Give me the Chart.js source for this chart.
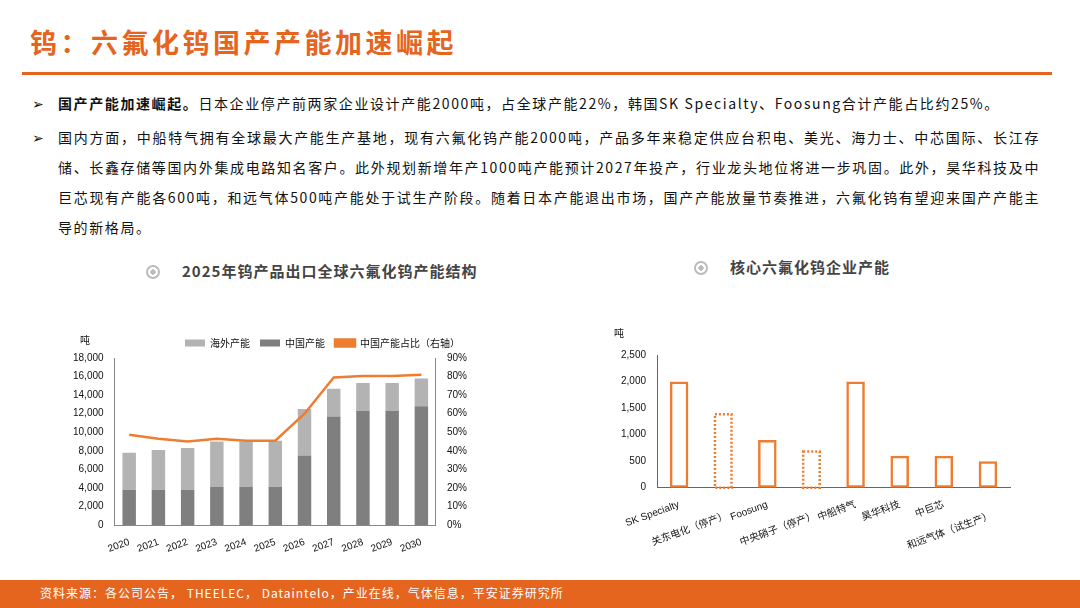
<!DOCTYPE html>
<html><head><meta charset="utf-8">
<script src="https://cdn.jsdelivr.net/npm/chart.js@4"></script>
<style>
body{margin:0;width:1080px;height:608px;position:relative;background:#fff;font-family:"Noto Sans CJK SC",sans-serif;overflow:hidden}
#title{position:absolute;left:30px;top:22px;font-size:27px;color:#E5651F;font-weight:bold;letter-spacing:3.5px}
#rule{position:absolute;left:22px;right:28px;top:72px;height:3px;background:#E5651F}
.b{position:absolute;left:32px;width:1008px;font-size:14px;line-height:30px;color:#111;letter-spacing:1.6px;text-align:justify}
.b span.m{position:absolute;left:0}
.b div{margin-left:26px}
.ct{position:absolute;font-size:15px;font-weight:bold;color:#444;letter-spacing:1px}
.ct i{display:inline-block;width:14px;height:14px;border-radius:50%;border:2px solid #bbb;box-sizing:border-box;vertical-align:-2px;margin-right:22px;background:radial-gradient(#bbb 35%,#fff 40%)}
#foot{position:absolute;left:0;right:0;top:580px;height:28px;background:#E5651F;color:#fff;font-size:12px;line-height:26px;padding-left:40px;letter-spacing:1px}
canvas{position:absolute}
</style></head><body>
<div id="title">钨：六氟化钨国产产能加速崛起</div>
<div id="rule"></div>
<div class="b" style="top:88px"><span class="m">➢</span><div><b>国产产能加速崛起。</b>日本企业停产前两家企业设计产能2000吨，占全球产能22%，韩国SK Specialty、Foosung合计产能占比约25%。</div></div>
<div class="b" style="top:122px"><span class="m">➢</span><div>国内方面，中船特气拥有全球最大产能生产基地，现有六氟化钨产能2000吨，产品多年来稳定供应台积电、美光、海力士、中芯国际、长江存储、长鑫存储等国内外集成电路知名客户。此外规划新增年产1000吨产能预计2027年投产，行业龙头地位将进一步巩固。此外，昊华科技及中巨芯现有产能各600吨，和远气体500吨产能处于试生产阶段。随着日本产能退出市场，国产产能放量节奏推进，六氟化钨有望迎来国产产能主导的新格局。</div></div>
<div class="ct" style="left:146px;top:260px"><i></i>2025年钨产品出口全球六氟化钨产能结构</div>
<div class="ct" style="left:694px;top:256px"><i></i>核心六氟化钨企业产能</div>
<canvas id="c1" style="left:70px;top:328px" width="400" height="230"></canvas>
<canvas id="c2" style="left:600px;top:325px" width="420" height="230"></canvas>
<div id="foot">资料来源：各公司公告， THEELEC， Dataintelo，产业在线，气体信息，平安证券研究所</div>
<script>
const years = ['2020','2021','2022','2023','2024','2025','2026','2027','2028','2029','2030'];
const chinaCap = [3800,3800,3800,4100,4100,4100,7500,11700,12300,12300,12800];
const overseasCap = [4000,4300,4500,4900,4900,5000,5000,3000,3000,3000,3000];
const chinaShare = [48.7,46.5,45,46.5,45.5,45.5,60,79.5,80.3,80.3,81];

const companies = [['SK Specialty',''],['','关东电化（停产）'],['Foosung',''],['','中央硝子（停产）'],['中船特气',''],['昊华科技',''],['中巨芯',''],['','和远气体（试生产）']];
const companyCap = [2000,1400,900,700,2000,600,600,500];
const stopped = [false,true,false,true,false,false,false,false];

const font = {family:'Liberation Sans, Noto Sans CJK SC', size:11};
Chart.defaults.color = '#111';
Chart.defaults.font = font;

const unitPlugin = {id:'unit', afterDraw(c, a, o){const x=c.ctx; x.save(); x.font='10px Noto Sans CJK SC'; x.fillStyle='#111'; x.fillText('吨', o.x, o.y); x.restore();}};

new Chart(document.getElementById('c1'), {
  data: {labels: years, datasets: [
    {type:'line', label:'中国产能占比（右轴）', data: chinaShare, yAxisID:'y2', borderColor:'#ED7D31', backgroundColor:'#ED7D31', borderWidth:2.5, pointRadius:0, tension:0, order:0},
    {type:'bar', label:'海外产能', data: overseasCap, backgroundColor:'#B3B3B3', stack:'s', barPercentage:0.46, categoryPercentage:1, order:2},
    {type:'bar', label:'中国产能', data: chinaCap, backgroundColor:'#7F7F7F', stack:'s', barPercentage:0.46, categoryPercentage:1, order:1}
  ]},
  options: {responsive:false, animation:false,
    plugins:{unit:{x:10,y:12}, legend:{align:'end', labels:{boxWidth:20, boxHeight:7, font:{size:10,family:'Noto Sans CJK SC'},
      sort:(a,b)=>a.datasetIndex===0?1:(b.datasetIndex===0?-1:a.datasetIndex-b.datasetIndex)}}, tooltip:{enabled:false}},
    scales:{
      x:{stacked:true, grid:{display:false}, border:{color:'#888'}, ticks:{maxRotation:20, minRotation:20, font:{size:10}}},
      y:{stacked:true, min:0, max:18000, ticks:{stepSize:2000, font:{size:10}}, grid:{display:false}, border:{color:'#888'}},
      y2:{position:'right', min:0, max:90, ticks:{stepSize:10, callback:v=>v+'%', font:{size:10}}, grid:{display:false}, border:{color:'#888'}}
    }},
  plugins:[unitPlugin]
});

const dotPlugin = {id:'dots', afterDatasetsDraw(c){
  const meta = c.getDatasetMeta(0), x = c.ctx;
  x.save(); x.strokeStyle='#ED7D31'; x.lineWidth=2.5; x.setLineDash([2,2]);
  meta.data.forEach((el,i)=>{ if(!stopped[i]) return; const w=el.width; x.strokeRect(el.x-w/2+1, el.y+1, w-2, el.base-el.y-1); });
  x.restore();
}};

new Chart(document.getElementById('c2'), {
  type:'bar',
  data:{labels: companies, datasets:[{data: companyCap, backgroundColor:'rgba(0,0,0,0)',
    borderColor: stopped.map(s=>s?'rgba(0,0,0,0)':'#ED7D31'), borderWidth:2.5, borderSkipped:false, barPercentage:0.42, categoryPercentage:1}]},
  options:{responsive:false, animation:false, layout:{padding:{top:30,left:18,right:10}},
    plugins:{legend:{display:false}, tooltip:{enabled:false}, unit:{x:14,y:12}},
    scales:{
      x:{grid:{display:false}, border:{color:'#666'}, ticks:{autoSkip:false, maxRotation:20, minRotation:20, font:{size:10, family:'Liberation Sans, Noto Sans CJK SC'}}},
      y:{min:0, max:2500, ticks:{stepSize:500, font:{size:10}}, grid:{display:false}, border:{color:'#666'}}
    }},
  plugins:[dotPlugin, unitPlugin]
});
</script>
</body></html>
